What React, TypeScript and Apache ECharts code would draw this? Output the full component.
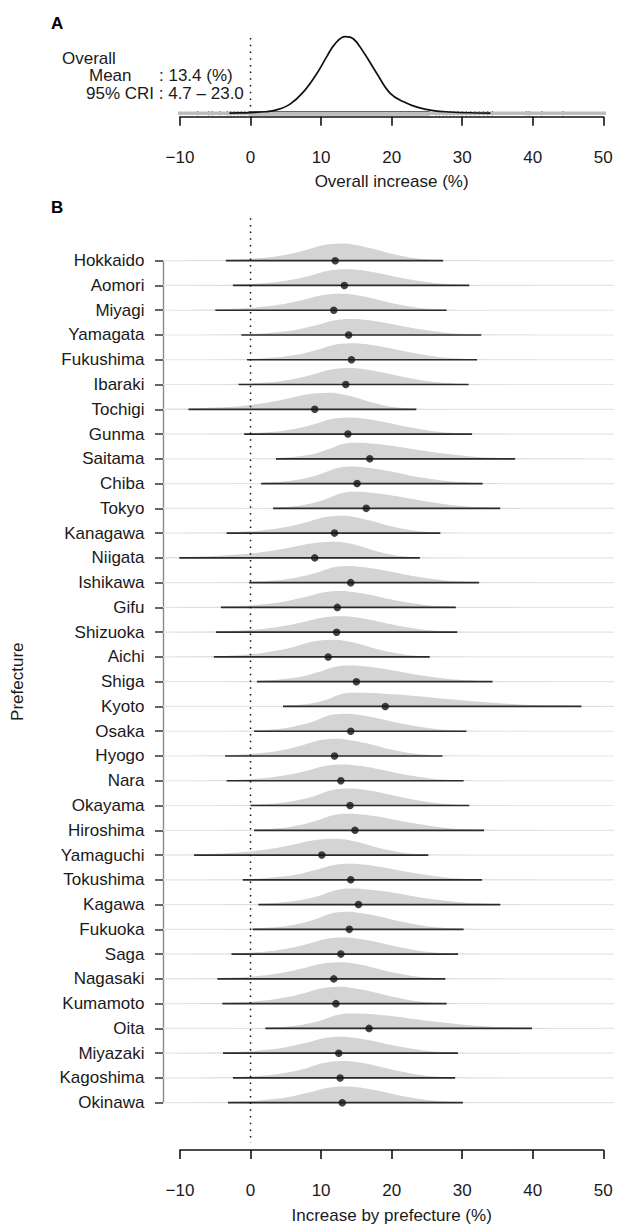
import React, { useEffect, useRef } from 'react';
import * as echarts from 'echarts';

const FONT = "'Liberation Sans', Arial, Helvetica, sans-serif";
const TEXT = '#1a1a1a';

// ---------- Panel A data ----------
const OVERALL_MEAN = 13.4;
const OVERALL_CRI_LOW = 4.7;
const OVERALL_CRI_HIGH = 23.0;
const OVERALL_X = [-3, -1, 0, 2, 3.7, 5.6, 7.5, 9.4, 10.8, 12.0, 13.4, 14.6, 16.0, 17.9, 19.8, 21.7, 23.6, 25.9, 28.3, 31, 34];
const OVERALL_H = [0.002, 0.006, 0.01, 0.02, 0.045, 0.12, 0.28, 0.52, 0.74, 0.91, 1.0, 0.97, 0.8, 0.52, 0.26, 0.15, 0.08, 0.035, 0.017, 0.007, 0.002];
const RUG_SPARSE = [-7.5, -5.9, -5.4, -4.3, -3.3, -2.8, -2.3, -1.8, -1.3, -0.8, 26.3, 26.8, 27.3, 27.8, 28.3, 28.8, 29.4, 30.0, 30.6, 31.2, 31.8, 32.4, 33.0, 33.6, 34.3, 39.1, 39.5, 41.3, 44.3];
const RUG_DENSE = [-0.3, 25.4];

// ---------- Panel B data ----------
const PREFECTURES = ['Hokkaido', 'Aomori', 'Miyagi', 'Yamagata', 'Fukushima', 'Ibaraki', 'Tochigi', 'Gunma', 'Saitama', 'Chiba', 'Tokyo', 'Kanagawa', 'Niigata', 'Ishikawa', 'Gifu', 'Shizuoka', 'Aichi', 'Shiga', 'Kyoto', 'Osaka', 'Hyogo', 'Nara', 'Okayama', 'Hiroshima', 'Yamaguchi', 'Tokushima', 'Kagawa', 'Fukuoka', 'Saga', 'Nagasaki', 'Kumamoto', 'Oita', 'Miyazaki', 'Kagoshima', 'Okinawa'];
const MEAN = [12.0, 13.3, 11.8, 13.9, 14.3, 13.5, 9.1, 13.8, 16.9, 15.1, 16.4, 11.9, 9.1, 14.2, 12.3, 12.2, 11.0, 15.0, 19.1, 14.2, 11.9, 12.8, 14.1, 14.8, 10.1, 14.2, 15.3, 14.0, 12.8, 11.8, 12.1, 16.8, 12.5, 12.7, 13.0];
const CRI_LOW = [-3.5, -2.5, -5.0, -1.3, -0.5, -1.7, -8.8, -0.9, 3.6, 1.5, 3.2, -3.4, -10.1, -0.2, -4.2, -4.9, -5.2, 0.9, 4.6, 0.5, -3.6, -3.4, 0.0, 0.5, -8.0, -1.1, 1.1, 0.3, -2.7, -4.7, -4.0, 2.1, -3.9, -2.5, -3.2];
const CRI_HIGH = [27.3, 31.0, 27.8, 32.7, 32.1, 30.9, 23.5, 31.4, 37.5, 32.9, 35.4, 26.9, 24.0, 32.4, 29.1, 29.3, 25.4, 34.3, 46.9, 30.6, 27.2, 30.2, 31.0, 33.1, 25.2, 32.8, 35.4, 30.2, 29.4, 27.6, 27.8, 39.9, 29.4, 29.0, 30.1];
const DENSITY_MODE = [12.7, 13.3, 12.7, 14.0, 14.0, 13.6, 11.0, 13.6, 14.5, 14.1, 14.5, 12.7, 12.0, 13.6, 12.6, 12.6, 11.5, 13.7, 14.4, 13.0, 12.0, 12.9, 13.6, 13.6, 11.8, 13.8, 14.1, 13.4, 12.9, 12.5, 12.5, 14.1, 12.7, 12.9, 13.2];
// shared density profile (offset in units of distance mode->CRI bound, relative height)
const PROFILE_U = [-1.5, -1.2, -1.0, -0.8, -0.6, -0.45, -0.3, -0.18, -0.08, 0, 0.08, 0.2, 0.3, 0.45, 0.6, 0.75, 0.9, 1.0, 1.2, 1.5];
const PROFILE_H = [0, 0.015, 0.04, 0.1, 0.22, 0.38, 0.62, 0.86, 0.97, 1, 0.98, 0.86, 0.72, 0.48, 0.28, 0.13, 0.05, 0.03, 0.012, 0];

const X_TICKS_MIN = -10;
const X_TICKS_MAX = 50;
const X_TICK_STEP = 10;
const X_EXTENT_LEFT = -12.4;
const X_EXTENT_RIGHT = 51.5;
const PEAK_ROWS = 0.695;
const REF_WIDTH = 30.8;

const fmtX = (v: number) => (v < 0 ? '\u2212' + Math.abs(v) : String(v));

function buildOption(): any {
  const axisCommon = {
    type: 'value',
    min: X_TICKS_MIN,
    max: X_TICKS_MAX,
    interval: X_TICK_STEP,
    position: 'bottom',
    splitLine: { show: false },
    axisLine: { show: true, onZero: false, lineStyle: { color: '#111', width: 1.6 } },
    axisTick: { show: true, inside: false, length: 9, lineStyle: { color: '#111', width: 1.6 } },
    axisLabel: { margin: 32, fontSize: 17, color: TEXT, fontFamily: FONT, formatter: fmtX },
    nameLocation: 'middle',
    nameTextStyle: { fontSize: 17, color: TEXT, fontFamily: FONT },
  };

  const rows = PREFECTURES.map((_, i) => [MEAN[i], i]);
  const txt = (s: string, left: number, top: number, bold = false) => ({
    type: 'text', left, top,
    style: { text: s, font: `${bold ? 'bold ' : ''}17px ${FONT}`, fill: bold ? '#000' : TEXT, lineHeight: 14 },
  });

  return {
    animation: false,
    backgroundColor: '#ffffff',
    textStyle: { fontFamily: FONT },
    grid: [
      { left: 180, top: 36.7, width: 423.3, height: 76.6 },
      { left: 180, top: 260.7, width: 423.3, height: 846 },
    ],
    xAxis: [
      { ...axisCommon, gridIndex: 0, offset: 3.4, name: 'Overall increase (%)', nameGap: 56 },
      { ...axisCommon, gridIndex: 1, offset: 47.3, name: 'Increase by prefecture (%)', nameGap: 57 },
    ],
    yAxis: [
      { type: 'value', gridIndex: 0, min: 0, max: 1, show: false },
      {
        type: 'value',
        gridIndex: 1,
        min: 0,
        max: PREFECTURES.length - 1,
        interval: 1,
        inverse: true,
        position: 'left',
        offset: 17,
        splitLine: { show: false },
        axisLine: { show: true, onZero: false, lineStyle: { color: '#8a8a8a', width: 1.4 } },
        axisTick: { show: true, inside: false, length: 8, lineStyle: { color: '#333', width: 1.5 } },
        axisLabel: {
          margin: 18.5,
          fontSize: 17,
          color: TEXT,
          fontFamily: FONT,
          formatter: (v: number) => PREFECTURES[Math.round(v)] ?? '',
        },
        name: 'Prefecture',
        nameLocation: 'middle',
        nameRotate: 90,
        nameGap: 137,
        nameTextStyle: { fontSize: 17, color: TEXT, fontFamily: FONT },
      },
    ],
    graphic: [
      txt('A', 51, 15, true),
      txt('B', 51, 199, true),
      txt('Overall', 62, 49.5),
      txt('Mean', 89, 67),
      txt(`: ${OVERALL_MEAN.toFixed(1)} (%)`, 159, 67),
      txt(`95% CRI : ${OVERALL_CRI_LOW.toFixed(1)} \u2013 ${OVERALL_CRI_HIGH.toFixed(1)}`, 86, 84.5),
    ],
    series: [
      // ---- Panel A ----
      {
        type: 'line', xAxisIndex: 0, yAxisIndex: 0, silent: true, clip: false,
        data: [[-12.6, 0], [52.7, 0]], symbol: 'none',
        lineStyle: { color: '#bdbdbd', width: 3.5 },
      },
      {
        type: 'custom', xAxisIndex: 0, yAxisIndex: 0, silent: true, clip: false,
        data: [[RUG_DENSE[0], 0, RUG_DENSE[1]]],
        renderItem: (_p: any, api: any) => {
          const a = api.coord([api.value(0), 0]);
          const b = api.coord([api.value(2), 0]);
          return { type: 'rect', shape: { x: a[0], y: a[1] - 2.2, width: b[0] - a[0], height: 4.2 }, style: { fill: '#111' } };
        },
      },
      {
        type: 'custom', xAxisIndex: 0, yAxisIndex: 0, silent: true, clip: false,
        data: RUG_SPARSE.map((v) => [v, 0]),
        renderItem: (_p: any, api: any) => {
          const a = api.coord([api.value(0), 0]);
          return { type: 'line', shape: { x1: a[0], y1: a[1] - 2.2, x2: a[0], y2: a[1] + 2 }, style: { stroke: '#111', lineWidth: 1 } };
        },
      },
      {
        type: 'line', xAxisIndex: 0, yAxisIndex: 0, silent: true, clip: false,
        data: OVERALL_X.map((x, i) => [x, OVERALL_H[i]]),
        smooth: 0.4, symbol: 'none',
        lineStyle: { color: '#111', width: 1.7 },
      },
      {
        type: 'line', xAxisIndex: 0, yAxisIndex: 0, silent: true, clip: false,
        data: [[0, 0], [0, 0.983]], symbol: 'none',
        lineStyle: { color: '#111', width: 1.5, type: [1.5, 5.2] },
      },
      // ---- Panel B ----
      {
        type: 'custom', xAxisIndex: 1, yAxisIndex: 1, silent: true, clip: false,
        data: rows,
        renderItem: (_p: any, api: any) => {
          const i = api.value(1);
          const a = api.coord([X_EXTENT_LEFT, i]);
          const b = api.coord([X_EXTENT_RIGHT, i]);
          return { type: 'line', shape: { x1: a[0], y1: a[1], x2: b[0], y2: b[1] }, style: { stroke: '#e6e6e6', lineWidth: 1.2 } };
        },
      },
      {
        type: 'custom', xAxisIndex: 1, yAxisIndex: 1, silent: true, clip: false,
        data: rows,
        renderItem: (_p: any, api: any) => {
          const i = api.value(1);
          const mode = DENSITY_MODE[i];
          const lo = CRI_LOW[i];
          const hi = CRI_HIGH[i];
          const left = mode - lo;
          const right = hi - mode;
          const peak = PEAK_ROWS * Math.pow(REF_WIDTH / (hi - lo), 0.7);
          const pts = PROFILE_U.map((u, k) => {
            let x = mode + u * (u < 0 ? left : right);
            x = Math.max(X_EXTENT_LEFT, Math.min(X_EXTENT_RIGHT, x));
            return api.coord([x, i - PROFILE_H[k] * peak]);
          });
          return { type: 'polygon', shape: { points: pts, smooth: 0.35 }, style: { fill: '#d4d4d4', stroke: 'none' } };
        },
      },
      {
        type: 'line', xAxisIndex: 1, yAxisIndex: 1, silent: true, clip: false,
        data: [[0, -1.716], [0, 35.63]], symbol: 'none',
        lineStyle: { color: '#111', width: 1.5, type: [1.5, 5.2] },
      },
      {
        type: 'custom', xAxisIndex: 1, yAxisIndex: 1, silent: true, clip: false,
        data: rows,
        renderItem: (_p: any, api: any) => {
          const i = api.value(1);
          const a = api.coord([CRI_LOW[i], i]);
          const b = api.coord([CRI_HIGH[i], i]);
          return { type: 'line', shape: { x1: a[0], y1: a[1], x2: b[0], y2: b[1] }, style: { stroke: '#2a2a2a', lineWidth: 1.7 } };
        },
      },
      {
        type: 'scatter', xAxisIndex: 1, yAxisIndex: 1, silent: true,
        data: rows, symbol: 'circle', symbolSize: 7.5,
        itemStyle: { color: '#141414' },
      },
    ],
  };
}

export default function App() {
  const ref = useRef<HTMLDivElement>(null);
  useEffect(() => {
    document.body.style.margin = '0';
    const chart = echarts.init(ref.current!, null, { renderer: 'svg' });
    chart.setOption(buildOption());
    return () => chart.dispose();
  }, []);
  return <div ref={ref} style={{ width: 619, height: 1229 }} />;
}
